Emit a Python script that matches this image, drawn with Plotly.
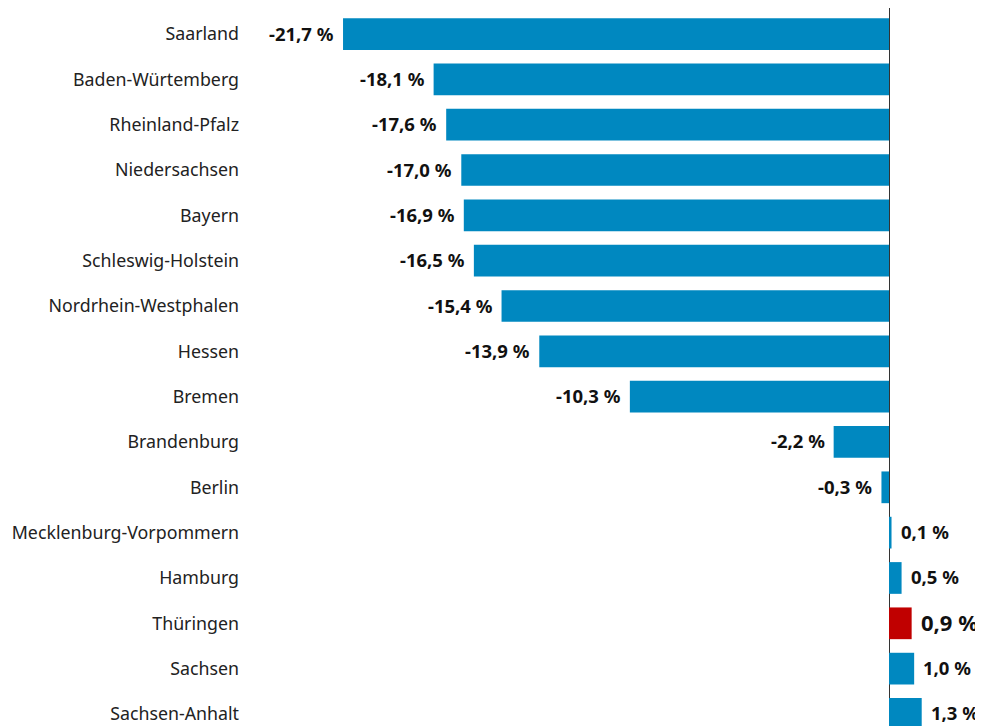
import plotly.graph_objects as go

laender = ["Saarland", "Baden-Würtemberg", "Rheinland-Pfalz", "Niedersachsen", "Bayern",
           "Schleswig-Holstein", "Nordrhein-Westphalen", "Hessen", "Bremen", "Brandenburg",
           "Berlin", "Mecklenburg-Vorpommern", "Hamburg", "Thüringen", "Sachsen", "Sachsen-Anhalt"]
werte = [-21.7, -18.1, -17.6, -17.0, -16.9, -16.5, -15.4, -13.9, -10.3, -2.2,
         -0.3, 0.1, 0.5, 0.9, 1.0, 1.3]
hervorgehoben = "Thüringen"

blau = "#0088C0"
rot = "#C00000"
farben = [rot if l == hervorgehoben else blau for l in laender]
texte = [f"{v:.1f} %".replace(".", ",") for v in werte]

fig = go.Figure(go.Bar(
    y=laender, x=werte, orientation="h",
    marker=dict(color=farben, line=dict(width=0)),
    width=0.7, hoverinfo="x+y",
))

for l, v, t in zip(laender, werte, texte):
    fig.add_annotation(
        x=v, y=l, text=t, showarrow=False,
        xanchor="right" if v < 0 else "left",
        xshift=-7 if v < 0 else 7,
        yshift=1,
        font=dict(family="Noto Sans", size=22 if l == hervorgehoben else 18.5,
                  color="#111111", weight="bold"),
    )

fig.update_layout(
    width=983, height=726,
    margin=dict(l=239, r=0, t=0, b=0),
    paper_bgcolor="white", plot_bgcolor="white",
    showlegend=False,
    font=dict(family="Noto Sans", size=18, color="#222222"),
)
fig.update_xaxes(range=[-25.517, 4.054], showgrid=False, zeroline=True, zerolinecolor="#333333",
                 zerolinewidth=1, showticklabels=False, fixedrange=True)
fig.update_yaxes(range=[15.442, -0.574], showgrid=False, ticks="", ticklabelstandoff=7,
                 tickfont=dict(family="Noto Sans", size=17.8, color="#222222"))

fig.write_html("out.html")
